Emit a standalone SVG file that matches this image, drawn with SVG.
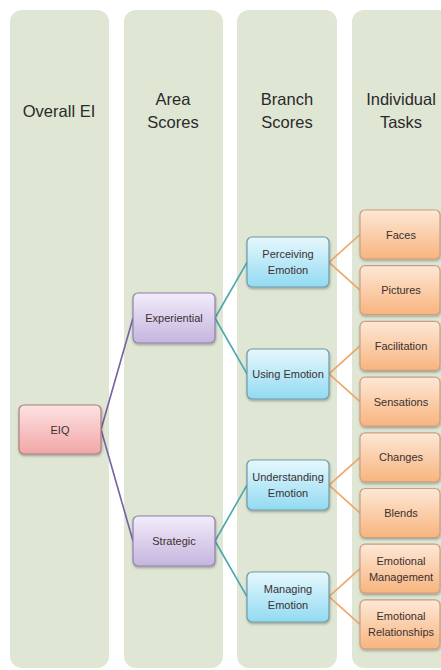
<svg xmlns="http://www.w3.org/2000/svg" width="441" height="670" viewBox="0 0 441 670">
<style>
.col{fill:#dfe6d4;}
.hdr{font-family:"Liberation Sans",Arial,sans-serif;font-size:16.5px;fill:#2a2a2a;text-anchor:middle;}
.lbl{font-family:"Liberation Sans",Arial,sans-serif;font-size:11px;fill:#3a3030;text-anchor:middle;}
.box{stroke-width:1.2;filter:url(#sh);}
.red{fill:url(#gRed);stroke:#a88080;}
.pur{fill:url(#gPur);stroke:#9080aa;}
.blu{fill:url(#gBlu);stroke:#6f9aa8;}
.org{fill:url(#gOrg);stroke:#c8a080;}
.cn{fill:none;stroke-width:1.6;}
.cp{stroke:#7262a0;}
.ct{stroke:#4aa6ae;}
.co{stroke:#eea566;}
</style>
<defs>
<linearGradient id="gRed" x1="0" y1="0" x2="0" y2="1"><stop offset="0" stop-color="#fde2e2"/><stop offset="1" stop-color="#f2a6a6"/></linearGradient>
<linearGradient id="gPur" x1="0" y1="0" x2="0" y2="1"><stop offset="0" stop-color="#f2ecf9"/><stop offset="1" stop-color="#c4b5df"/></linearGradient>
<linearGradient id="gBlu" x1="0" y1="0" x2="0" y2="1"><stop offset="0" stop-color="#e6f8fd"/><stop offset="1" stop-color="#92daf2"/></linearGradient>
<linearGradient id="gOrg" x1="0" y1="0" x2="0" y2="1"><stop offset="0" stop-color="#fde8d6"/><stop offset="1" stop-color="#f8b47e"/></linearGradient>
<filter id="sh" x="-10%" y="-10%" width="130%" height="140%"><feDropShadow dx="0.5" dy="1.5" stdDeviation="1" flood-color="#000" flood-opacity="0.3"/></filter>
</defs>
<rect width="441" height="670" fill="#ffffff"/>
<g id="columns">
<rect class="col" x="10" y="10" width="99" height="658" rx="12"/>
<rect class="col" x="124" y="10" width="99" height="658" rx="12"/>
<rect class="col" x="237" y="10" width="100" height="658" rx="12"/>
<rect class="col" x="352" y="10" width="100" height="658" rx="12"/>
</g>
<g id="headers">
<text class="hdr" x="59" y="117">Overall EI</text>
<text class="hdr" x="173" y="105">Area</text>
<text class="hdr" x="173" y="128">Scores</text>
<text class="hdr" x="287" y="105">Branch</text>
<text class="hdr" x="287" y="128">Scores</text>
<text class="hdr" x="401" y="105">Individual</text>
<text class="hdr" x="401" y="128">Tasks</text>
</g>
<g id="connectors">
<line class="cn cp" x1="101" y1="429.5" x2="133" y2="318"/>
<line class="cn cp" x1="101" y1="429.5" x2="133" y2="541"/>
<line class="cn ct" x1="215" y1="318" x2="247" y2="262.3"/>
<line class="cn ct" x1="215" y1="318" x2="247" y2="373.8"/>
<line class="cn ct" x1="215" y1="541" x2="247" y2="485.2"/>
<line class="cn ct" x1="215" y1="541" x2="247" y2="596.6"/>
<line class="cn co" x1="329" y1="262.3" x2="360" y2="234.5"/>
<line class="cn co" x1="329" y1="262.3" x2="360" y2="290.2"/>
<line class="cn co" x1="329" y1="373.8" x2="360" y2="345.9"/>
<line class="cn co" x1="329" y1="373.8" x2="360" y2="401.6"/>
<line class="cn co" x1="329" y1="485.2" x2="360" y2="457.3"/>
<line class="cn co" x1="329" y1="485.2" x2="360" y2="513"/>
<line class="cn co" x1="329" y1="596.6" x2="360" y2="568.7"/>
<line class="cn co" x1="329" y1="596.6" x2="360" y2="624.4"/>
</g>
<g id="n-eiq"><rect class="box red" x="19" y="405" width="82" height="49" rx="5"/><text class="lbl" x="60" y="433.5">EIQ</text></g>
<g id="n-experiential"><rect class="box pur" x="133" y="293" width="82" height="50" rx="5"/><text class="lbl" x="174" y="322">Experiential</text></g>
<g id="n-strategic"><rect class="box pur" x="133" y="516" width="82" height="50" rx="5"/><text class="lbl" x="174" y="545">Strategic</text></g>
<g id="n-perceiving"><rect class="box blu" x="247" y="237" width="82" height="50" rx="5"/><text class="lbl" x="288" y="258">Perceiving</text><text class="lbl" x="288" y="274">Emotion</text></g>
<g id="n-using"><rect class="box blu" x="247" y="349" width="82" height="50" rx="5"/><text class="lbl" x="288" y="378">Using Emotion</text></g>
<g id="n-understanding"><rect class="box blu" x="247" y="460" width="82" height="50" rx="5"/><text class="lbl" x="288" y="481">Understanding</text><text class="lbl" x="288" y="497">Emotion</text></g>
<g id="n-managing"><rect class="box blu" x="247" y="572" width="82" height="50" rx="5"/><text class="lbl" x="288" y="593">Managing</text><text class="lbl" x="288" y="609">Emotion</text></g>
<g id="n-faces"><rect class="box org" x="360" y="210" width="80" height="49" rx="5"/><text class="lbl" x="401" y="238.5">Faces</text></g>
<g id="n-pictures"><rect class="box org" x="360" y="265.7" width="80" height="49" rx="5"/><text class="lbl" x="401" y="294.2">Pictures</text></g>
<g id="n-facilitation"><rect class="box org" x="360" y="321.4" width="80" height="49" rx="5"/><text class="lbl" x="401" y="349.9">Facilitation</text></g>
<g id="n-sensations"><rect class="box org" x="360" y="377.1" width="80" height="49" rx="5"/><text class="lbl" x="401" y="405.6">Sensations</text></g>
<g id="n-changes"><rect class="box org" x="360" y="432.8" width="80" height="49" rx="5"/><text class="lbl" x="401" y="461.3">Changes</text></g>
<g id="n-blends"><rect class="box org" x="360" y="488.5" width="80" height="49" rx="5"/><text class="lbl" x="401" y="517">Blends</text></g>
<g id="n-emgmt"><rect class="box org" x="360" y="544.2" width="80" height="49" rx="5"/><text class="lbl" x="401" y="564.7">Emotional</text><text class="lbl" x="401" y="580.7">Management</text></g>
<g id="n-erel"><rect class="box org" x="360" y="599.9" width="80" height="49" rx="5"/><text class="lbl" x="401" y="620.4">Emotional</text><text class="lbl" x="401" y="636.4">Relationships</text></g>
</svg>
